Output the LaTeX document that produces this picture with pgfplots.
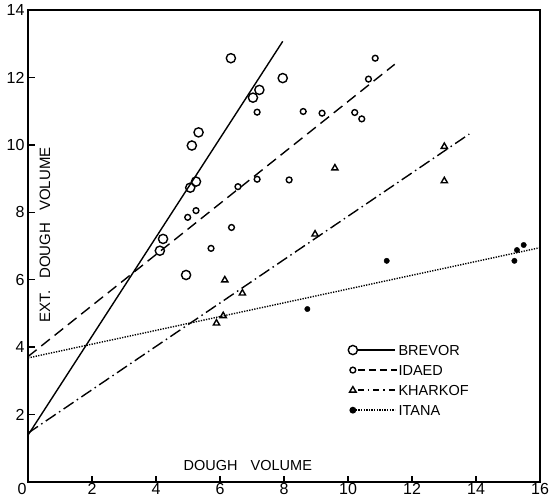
\documentclass[border=0pt]{standalone}
\usepackage{fontspec}
\setmainfont{Liberation Sans}
\usepackage{pgfplots}
\pgfplotsset{compat=1.18}
\begin{document}
\begin{tikzpicture}
\begin{axis}[
  width=512pt, height=472pt, scale only axis,
  xmin=0, xmax=16, ymin=0, ymax=14,
  xtick={2,4,...,16}, ytick={2,4,...,14},
  extra x ticks={0}, extra x tick style={xticklabel style={xshift=-6pt}},
  tick align=inside, major tick length=6.5pt,
  xtick pos=bottom, ytick pos=left,
  axis line style={line width=1.9pt},
  tick style={line width=1.4pt, black},
  ticklabel style={font=\fontsize{16}{18}\selectfont},
  xticklabel style={inner sep=1pt},
  /pgf/number format/assume math mode=true,
  clip=false,
  legend style={at={(axis cs:9.98,4.1)}, anchor=north west, draw=none, fill=none,
    font=\fontsize{14.5}{17}\selectfont, inner sep=0pt, row sep=8pt, column sep=0pt,
    nodes={inner sep=1pt, text depth=0pt}},
  legend cell align=left,
]
\coordinate (sw) at (rel axis cs:0,0);
\coordinate (ne) at (rel axis cs:1,1);
% BREVOR
\addplot[only marks, mark=o, mark size=4.6pt, mark options={line width=1.4pt}, forget plot] coordinates {
(6.34,12.57)(7.96,11.98)(7.23,11.63)(7.03,11.40)(5.33,10.37)(5.12,9.98)(5.25,8.91)(5.07,8.73)(4.22,7.21)(4.12,6.86)(4.94,6.14)};
\addplot[line width=1.4pt, forget plot] coordinates {(0,1.39)(7.96,13.07)};
% IDAED
\addplot[only marks, mark=o, mark size=2.9pt, mark options={line width=1.4pt}, forget plot] coordinates {
(7.16,10.97)(7.16,8.98)(6.56,8.76)(5.25,8.05)(4.99,7.85)(6.36,7.55)(5.72,6.93)(10.85,12.57)(10.64,11.95)(8.60,10.99)(9.19,10.94)(10.21,10.96)(10.43,10.77)(8.16,8.96)};
\addplot[line width=1.4pt, dash pattern=on 11pt off 6pt, forget plot] coordinates {(0,3.72)(11.46,12.39)};
% KHARKOF
\addplot[only marks, mark=triangle, mark size=3.6pt, mark options={line width=1.4pt}, forget plot] coordinates {
(9.59,9.31)(13.01,9.95)(13.01,8.93)(8.97,7.35)(6.15,5.99)(6.70,5.60)(6.10,4.93)(5.89,4.71)};
\addplot[line width=1.4pt, dash pattern=on 12pt off 4pt on 1.5pt off 4pt, forget plot] coordinates {(0,1.45)(13.79,10.32)};
% ITANA
\addplot[only marks, mark=*, mark size=2.7pt, forget plot] coordinates {
(11.21,6.56)(8.73,5.13)(15.20,6.56)(15.28,6.88)(15.49,7.03)};
\addplot[line width=1.4pt, dash pattern=on 1.3pt off 1.3pt, forget plot] coordinates {(0,3.68)(16,6.95)};
% legend
\addlegendimage{line width=1.4pt, legend image code/.code={
  \draw[line width=1.4pt] (4.6pt,0pt) -- (42pt,0pt);
  \draw[line width=1.4pt] (0pt,0pt) circle (4.6pt);}}
\addlegendentry{BREVOR}
\addlegendimage{line width=1.4pt, legend image code/.code={
  \draw[line width=1.4pt, dash pattern=on 7pt off 4pt] (5pt,0pt) -- (44pt,0pt);
  \draw[line width=1.4pt] (0pt,0pt) circle (2.9pt);}}
\addlegendentry{IDAED}
\addlegendimage{line width=1.4pt, legend image code/.code={
  \draw[line width=1.4pt, dash pattern=on 6pt off 4pt on 1.5pt off 4pt] (5pt,0pt) -- (42pt,0pt);
  \draw[line width=1.4pt] (-3.3pt,-2pt) -- (3.3pt,-2pt) -- (0pt,3.5pt) -- cycle;}}
\addlegendentry{KHARKOF}
\addlegendimage{line width=1.4pt, legend image code/.code={
  \draw[line width=1.4pt, dash pattern=on 1.3pt off 1.3pt] (3pt,0pt) -- (42pt,0pt);
  \fill (0pt,0pt) circle (2.7pt);}}
\addlegendentry{ITANA}
\node[rotate=90, font=\fontsize{15}{17}\selectfont] at (axis cs:0.53,7.33) {EXT.\hspace{0.8em}DOUGH\hspace{0.8em}VOLUME};
\node[font=\fontsize{14.5}{17}\selectfont, anchor=base] at (axis cs:6.87,0.35) {DOUGH\hspace{0.9em}VOLUME};
\end{axis}
\pgfresetboundingbox
\path[use as bounding box] ([shift={(-28pt,-18pt)}]sw) rectangle ([shift={(10pt,10pt)}]ne);
\end{tikzpicture}
\end{document}
